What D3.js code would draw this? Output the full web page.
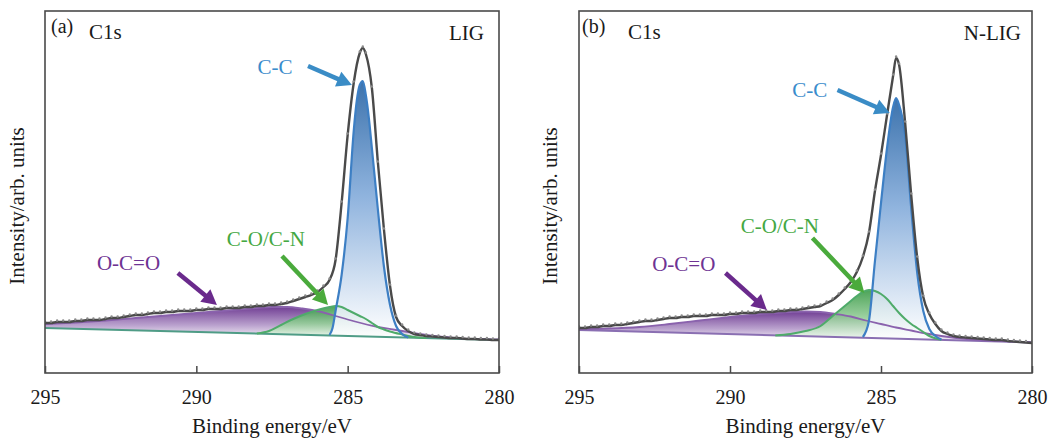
<!DOCTYPE html>
<html><head><meta charset="utf-8">
<script src="https://cdn.jsdelivr.net/npm/d3@7"></script>
<style>
html,body{margin:0;padding:0;background:#fff;}
svg{display:block;}
</style></head>
<body><svg id="chart" width="1048" height="440"></svg>
<script>
// ---------------- DATA ----------------
const tickValues = [295, 290, 285, 280];
const tickLabels = ["295", "290", "285", "280"];
const xTitle = "Binding energy/eV";
const yTitle = "Intensity/arb. units";
const panelIds = ["(a)", "(b)"];
const panelNames = ["LIG", "N-LIG"];
const coreLevel = "C1s";
const componentNames = ["C-C", "C-O/C-N", "O-C=O"];

// measured spectrum (grey dots + envelope), shared energy grid
const measuredEnergy = [295.0,294.8,294.6,294.4,294.2,294.0,293.8,293.6,293.4,293.2,293.0,292.8,292.6,292.4,292.2,292.0,291.8,291.6,291.4,291.2,291.0,290.8,290.6,290.4,290.2,290.0,289.8,289.6,289.4,289.2,289.0,288.8,288.6,288.4,288.2,288.0,287.8,287.6,287.4,287.2,287.0,286.8,286.6,286.4,286.2,286.0,285.8,285.6,285.4,285.2,285.0,284.8,284.6,284.5,284.4,284.2,284.0,283.8,283.6,283.4,283.2,283.0,282.8,282.6,282.4,282.2,282.0,281.8,281.6,281.4,281.2,281.0,280.8,280.6,280.4,280.2,280.0];
const measuredA = [50,50,51,51,51,52,52,53,53,53,54,55,55,56,57,58,58,59,60,60,61,61,62,62,62,63,63,64,64,64,65,65,65,66,66,67,67,68,68,69,70,72,74,76,78,81,86,93,113,170,238,290,320,325,319,285,210,143,87,56,47,42,39,38,37,36.5,36,35.5,35,35,34.5,34,34,33.5,33.5,33,33];
const measuredB = [45,45,46,46,47,47,48,48,49,50,51,52,52,53,54,55,55,56,56,57,57,57,58,58,58,59,59,60,60,60,61,61,61,62,62,63,63,64,65,66,67,70,73,78,84,91,101,116,140,182,218,258,297,315,308,250,178,115,76,59,49,42,39,37,36,35.5,35,34.5,34,33.5,33,33,32,31.5,31,30.5,30];

// background lines
const bgEnergy = [295, 280];
const bgA = [45, 33];
const bgB = [43, 30.5];

// fitted components, panel (a)
const ccEnergyA = [285.6,285.5,285.4,285.2,285.0,284.8,284.7,284.6,284.5,284.4,284.3,284.2,284.0,283.8,283.6,283.4,283.2,283.0];
const ccA = [38,45,62,98,155,242,272,288,292,278,255,225,163,106,68,47,39,35.5];
const coEnergyA = [288.0,287.6,287.2,286.8,286.4,286.0,285.6,285.4,285.2,285.0,284.8,284.6,284.4,284.2,284.0,283.8,283.6,283.2,282.8,282.4];
const coA = [39.5,42,48,54,59,63,66,67,66,63,60,57,54,50,46,43.5,41.5,38.5,36,35];
const occoEnergyA = [295,294,293,292,291,290,289,288,287.5,287,286.5,286,285.5,285,284.5,284,283.5,283,282.5,282,281.5,281,280.5,280];
const occoA = [49,50.5,52.5,55,57.5,60,62.5,65,66,66,64.5,62,58,53.5,49.5,46,43.5,41,38.5,36.5,35.2,34.2,33.8,33.5];

// fitted components, panel (b)
const ccEnergyB = [285.6,285.4,285.2,285.0,284.8,284.6,284.5,284.4,284.2,284.0,283.8,283.6,283.4,283.2,283.0];
const ccB = [36,52,112,170,225,266,275,268,238,165,100,62,44,37,33.5];
const coEnergyB = [288.5,288.0,287.5,287.0,286.6,286.2,286.0,285.8,285.6,285.4,285.2,285.0,284.8,284.6,284.4,284.2,284.0,283.8,283.6,283.4,283.0];
const coB = [37.5,39,42,47,57,67,72,77,81,83,82,79,74,67,60,54,49,45,41,37,33.3];
const occoEnergyB = [295,294,293,292,291,290,289,288,287.5,287,286.5,286,285.5,285,284.5,284,283.5,283,282.5,282,281.5,281,280.5,280];
const occoB = [44,44.5,46,49,52.5,56,59,61,61.5,61,59,56.5,52.5,49,45.5,42.5,39.5,37,35,33.5,32.6,31.9,31.3,30.8];

// ---------------- LAYOUT / STYLE ----------------
const FONT = '"Liberation Serif", "DejaVu Serif", serif';
const layout = [
  {x0:45, x1:499, y0:11, y1:373, yTitleX:24, idX:51, c1sX:89, nameX:484,
   ann:[{lx:287.40,ly:299,sx:286.31,sy:307,tx:284.86,ty:288},
        {lx:287.70,ly:127,sx:287.17,sy:117,tx:285.65,ty:68},
        {lx:292.24,ly:103,sx:290.61,sy:100,tx:289.32,ty:68}]},
  {x0:579, x1:1032, y0:11, y1:373, yTitleX:557, idX:582, c1sX:628, nameX:1021,
   ann:[{lx:287.36,ly:276,sx:286.44,sy:283,tx:284.71,ty:260},
        {lx:288.35,ly:140,sx:287.27,sy:135,tx:285.55,ty:80},
        {lx:291.53,ly:102,sx:290.15,sy:100,tx:288.78,ty:63}]}
];
const annColors = ["#3a8ccc", "#45a843", "#6e3393"];
const arrowColors = ["#3a8cc6", "#4aaa3c", "#6a2a8c"];

const panelData = [
  {meas:measuredA, bg:bgA,
   comps:[{e:occoEnergyA,v:occoA,key:"p"},{e:coEnergyA,v:coA,key:"g"},{e:ccEnergyA,v:ccA,key:"b"}],
   bgColor:"#4f9c86"},
  {meas:measuredB, bg:bgB,
   comps:[{e:occoEnergyB,v:occoB,key:"p"},{e:coEnergyB,v:coB,key:"g"},{e:ccEnergyB,v:ccB,key:"b"}],
   bgColor:"#8a6fb2"}
];
const compStyle = {
  b:{stroke:"#3d7fc4", stops:[[0,"#2c67a6"],[0.45,"#86addb"],[1,"#ffffff"]], op:0.92, sw:2.2},
  g:{stroke:"#4fab6a", stops:[[0,"#3a9a47"],[0.55,"#93cd97"],[1,"#f4faf4"]], op:0.9, sw:2},
  p:{stroke:"#8a62ad", stops:[[0,"#6a358f"],[0.55,"#b69ccb"],[1,"#ffffff"]], op:0.95, sw:1.8}
};

const svg = d3.select("#chart");
const defs = svg.append("defs");

function txt(sel) { return sel.attr("font-family", FONT).style("font-family", FONT); }

layout.forEach((L, pi) => {
  const D = panelData[pi];
  const x = d3.scaleLinear().domain([295, 280]).range([L.x0, L.x1]);
  const y = d3.scaleLinear().domain([0, 362]).range([L.y1, L.y0]);
  const bgScale = d3.scaleLinear().domain(bgEnergy).range(D.bg);

  const clipId = "clip" + pi;
  defs.append("clipPath").attr("id", clipId).append("rect")
    .attr("x", L.x0).attr("y", L.y0).attr("width", L.x1 - L.x0).attr("height", L.y1 - L.y0);

  Object.entries(compStyle).forEach(([k, s]) => {
    const g = defs.append("linearGradient").attr("id", `grad${pi}${k}`)
      .attr("x1", 0).attr("y1", 0).attr("x2", 0).attr("y2", 1);
    s.stops.forEach(([o, c]) => g.append("stop").attr("offset", o).attr("stop-color", c));
  });

  const plot = svg.append("g").attr("clip-path", `url(#${clipId})`);
  const line = d3.line().curve(d3.curveMonotoneX);

  D.comps.forEach(c => {
    const pts = c.e.map((e, i) => [x(e), y(c.v[i])]);
    const eFirst = c.e[0], eLast = c.e[c.e.length - 1];
    const d = line(pts) + `L${x(eLast)},${y(bgScale(eLast))}L${x(eFirst)},${y(bgScale(eFirst))}Z`;
    plot.append("path").attr("d", d).attr("fill", `url(#grad${pi}${c.key})`)
      .attr("fill-opacity", compStyle[c.key].op);
  });
  plot.append("path").attr("d", line(bgEnergy.map((e, i) => [x(e), y(D.bg[i])])))
    .attr("fill", "none").attr("stroke", D.bgColor).attr("stroke-width", 2);
  D.comps.forEach(c => {
    plot.append("path").attr("d", line(c.e.map((e, i) => [x(e), y(c.v[i])])))
      .attr("fill", "none").attr("stroke", compStyle[c.key].stroke)
      .attr("stroke-width", compStyle[c.key].sw);
  });
  plot.append("path").attr("d", line(measuredEnergy.map((e, i) => [x(e), y(D.meas[i])])))
    .attr("fill", "none").attr("stroke", "#4a4a4a").attr("stroke-width", 2.4);
  plot.selectAll("circle.pt").data(measuredEnergy).enter().append("circle")
    .attr("cx", e => x(e)).attr("cy", (e, i) => y(D.meas[i]) - 1.5)
    .attr("r", 1.2).attr("fill", "#8c8c8c");

  svg.append("rect").attr("x", L.x0).attr("y", L.y0)
    .attr("width", L.x1 - L.x0).attr("height", L.y1 - L.y0)
    .attr("fill", "none").attr("stroke", "#4a4a4a").attr("stroke-width", 1.6);

  const ax = svg.append("g").attr("transform", `translate(0,${L.y1})`)
    .call(d3.axisBottom(x).tickValues(tickValues)
      .tickFormat((d, i) => tickLabels[i])
      .tickSizeInner(-7).tickSizeOuter(0).tickPadding(17));
  ax.attr("font-family", FONT).attr("font-size", 20);
  ax.select(".domain").remove();
  ax.selectAll(".tick line").attr("stroke", "#4a4a4a").attr("stroke-width", 1.5);
  txt(ax.selectAll(".tick text")).attr("fill", "#1a1a1a").style("font-size", "20px");

  txt(svg.append("text")).attr("x", (L.x0 + L.x1) / 2).attr("y", 433)
    .attr("text-anchor", "middle").attr("fill", "#1a1a1a").style("font-size", "21px").text(xTitle);
  txt(svg.append("text")).attr("transform", `translate(${L.yTitleX},206) rotate(-90)`)
    .attr("text-anchor", "middle").attr("fill", "#1a1a1a").style("font-size", "21px").text(yTitle);

  txt(svg.append("text")).attr("x", L.idX).attr("y", 33).attr("fill", "#1a1a1a")
    .style("font-size", "20px").text(panelIds[pi]);
  txt(svg.append("text")).attr("x", L.c1sX).attr("y", 39).attr("fill", "#1a1a1a")
    .style("font-size", "21px").text(coreLevel);
  txt(svg.append("text")).attr("x", L.nameX).attr("y", 40).attr("text-anchor", "end").attr("fill", "#1a1a1a")
    .style("font-size", "21px").text(panelNames[pi]);

  L.ann.forEach((a, k) => {
    txt(svg.append("text")).attr("x", x(a.lx)).attr("y", y(a.ly)).attr("text-anchor", "middle")
      .attr("fill", annColors[k]).style("font-size", "21px").text(componentNames[k]);
    const sx = x(a.sx), sy = y(a.sy), tx = x(a.tx), ty = y(a.ty);
    const dx = tx - sx, dy = ty - sy, len = Math.hypot(dx, dy);
    const ux = dx / len, uy = dy / len, head = 15, hw = 8;
    const bx = tx - ux * head, by = ty - uy * head;
    svg.append("line").attr("x1", sx).attr("y1", sy).attr("x2", bx + ux * 2).attr("y2", by + uy * 2)
      .attr("stroke", arrowColors[k]).attr("stroke-width", 4.5);
    svg.append("path")
      .attr("d", `M${tx},${ty}L${bx - uy * hw},${by + ux * hw}L${bx + uy * hw},${by - ux * hw}Z`)
      .attr("fill", arrowColors[k]);
  });
});
</script>
</body></html>
